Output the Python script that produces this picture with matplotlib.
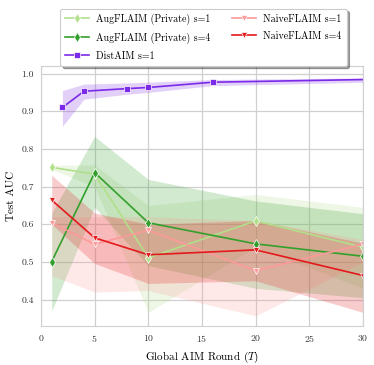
import matplotlib
matplotlib.use("Agg")
import matplotlib.pyplot as plt
import numpy as np

plt.rcParams['font.family'] = ['cmr10']
plt.rcParams['mathtext.fontset'] = 'cm'
plt.rcParams['axes.formatter.use_mathtext'] = True
plt.rcParams['axes.unicode_minus'] = False

rounds = [1, 5, 10, 20, 30]
dist_rounds = [2, 4, 8, 10, 16, 32]

aug1_mean = [0.751, 0.733, 0.511, 0.609, 0.539]
aug1_lo = [0.745, 0.70, 0.366, 0.54, 0.43]
aug1_hi = [0.757, 0.757, 0.65, 0.679, 0.645]

aug4_mean = [0.501, 0.737, 0.604, 0.548, 0.515]
aug4_lo = [0.37, 0.645, 0.49, 0.43, 0.405]
aug4_hi = [0.63, 0.833, 0.719, 0.662, 0.628]

naive1_mean = [0.604, 0.547, 0.584, 0.477, 0.547]
naive1_lo = [0.464, 0.42, 0.424, 0.357, 0.50]
naive1_hi = [0.62, 0.62, 0.62, 0.61, 0.56]

naive4_mean = [0.664, 0.564, 0.519, 0.532, 0.464]
naive4_lo = [0.60, 0.496, 0.443, 0.45, 0.366]
naive4_hi = [0.73, 0.63, 0.60, 0.61, 0.55]

dist_mean = [0.910, 0.953, 0.960, 0.963, 0.977, 0.985]
dist_lo = [0.86, 0.932, 0.945, 0.950, 0.968, 0.978]
dist_hi = [0.955, 0.972, 0.975, 0.977, 0.984, 0.989]

series = [
    ("AugFLAIM (Private) s=1", rounds, aug1_mean, aug1_lo, aug1_hi, '#b2df8a', 'd'),
    ("AugFLAIM (Private) s=4", rounds, aug4_mean, aug4_lo, aug4_hi, '#33a02c', 'd'),
    ("DistAIM s=1", dist_rounds, dist_mean, dist_lo, dist_hi, '#7b2be8', 's'),
    ("NaiveFLAIM s=1", rounds, naive1_mean, naive1_lo, naive1_hi, '#fb9a99', 'v'),
    ("NaiveFLAIM s=4", rounds, naive4_mean, naive4_lo, naive4_hi, '#e31a1c', 'v'),
]

fig = plt.figure(figsize=(3.74, 3.65), dpi=100)
ax = fig.add_axes([41/374, 1-326/365, 322/374, 260/365])

for name, x, m, lo, hi, c, mk in series:
    ax.fill_between(x, lo, hi, color=c, alpha=0.22, linewidth=0)
    ax.plot(x, m, color=c, marker=mk, markersize=5, linewidth=1.2,
            markeredgecolor='white', markeredgewidth=0.5, label=name)

ax.set_xlim(0, 30)
ax.set_ylim(0.33, 1.02)
ax.set_xticks([0, 5, 10, 15, 20, 25, 30])
ax.set_yticks([0.4, 0.5, 0.6, 0.7, 0.8, 0.9, 1.0])
ax.yaxis.set_major_formatter(matplotlib.ticker.FormatStrFormatter('%.1f'))
ax.grid(True, color='#d0d0d0', linewidth=0.9)
ax.set_axisbelow(True)
for s in ax.spines.values():
    s.set_color('#d0d0d0')
ax.tick_params(length=0, labelsize=7, pad=5, colors='#333333')
ax.set_xlabel('Global AIM Round ($T$)', fontsize=8)
ax.set_ylabel('Test AUC', fontsize=8)

handles, labels = ax.get_legend_handles_labels()
leg = fig.legend(handles, labels, loc='upper center', bbox_to_anchor=(0.544, 0.99),
                 ncol=2, fontsize=7.2, frameon=True, fancybox=True, shadow=True,
                 columnspacing=2.2, handlelength=2.4, handletextpad=0.7,
                 labelspacing=0.75, edgecolor='#cccccc', borderpad=0.5)
leg.get_frame().set_linewidth(0.8)

fig.savefig('out.png', dpi=100)
